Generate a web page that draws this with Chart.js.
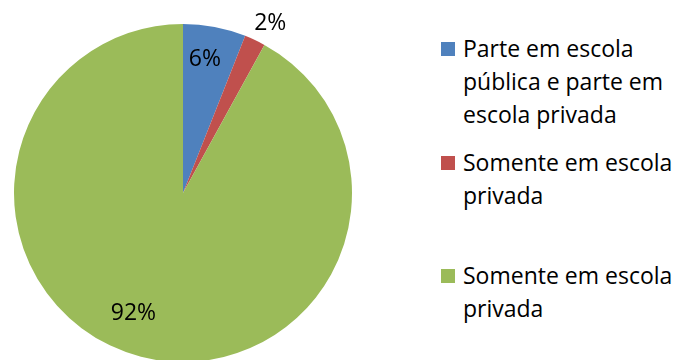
<!DOCTYPE html>
<html lang="pt">
<head>
<meta charset="utf-8">
<title>Escola</title>
<script src="https://cdn.jsdelivr.net/npm/chart.js@4.4.1/dist/chart.umd.min.js"></script>
<style>
  html, body { margin: 0; padding: 0; background: #fff; }
  body { width: 677px; height: 360px; overflow: hidden; position: relative; font-family: "Open Sans", sans-serif; }
  #pieWrap { position: absolute; left: 0; top: 0; width: 366px; height: 380px; }
  #legend { position: absolute; left: 441px; top: 0; width: 236px; height: 360px; }
  .lg-item { position: absolute; left: 0; display: flex; align-items: flex-start; }
  .lg-box { width: 14px; height: 14px; margin-top: 10px; margin-right: 8px; flex: none; }
  .lg-text { font-size: 23px; line-height: 33px; color: #000; white-space: nowrap; }
</style>
</head>
<body>
<div id="pieWrap"><canvas id="pie"></canvas></div>
<div id="legend"></div>
<script>
// --- data ---
const categories = [
    ['Parte em escola', 'pública e parte em', 'escola privada'],
    ['Somente em escola', 'privada'],
    ['Somente em escola', 'privada']
];
const shares = [6, 2, 92];
const sliceColors = ['#4F81BD', '#C0504D', '#9BBB59'];

// label placement: radius factor and angle nudge (deg) per slice
const labelRadius = [0.80, 1.13, 0.77];
const labelNudge = [-1.5, 2, 8];
// legend rows: top of first text line
const legendTops = [32, 146, 259];

const sliceLabels = {
    id: 'sliceLabels',
    afterDatasetsDraw(chart) {
        const ctx = chart.ctx;
        const meta = chart.getDatasetMeta(0);
        ctx.save();
        ctx.font = '23px "Open Sans", sans-serif';
        ctx.fillStyle = '#000';
        ctx.textAlign = 'center';
        ctx.textBaseline = 'middle';
        meta.data.forEach(function (arc, i) {
            const p = arc.getProps(['x', 'y', 'startAngle', 'endAngle', 'outerRadius'], true);
            const mid = (p.startAngle + p.endAngle) / 2 + labelNudge[i] * Math.PI / 180;
            const r = p.outerRadius * labelRadius[i];
            ctx.fillText(shares[i] + '%', p.x + Math.cos(mid) * r, p.y + Math.sin(mid) * r);
        });
        ctx.restore();
    }
};

new Chart(document.getElementById('pie').getContext('2d'), {
    type: 'pie',
    data: {
        labels: categories,
        datasets: [{
            data: shares,
            backgroundColor: sliceColors,
            borderWidth: 0
        }]
    },
    options: {
        responsive: true,
        maintainAspectRatio: false,
        animation: false,
        layout: { padding: { left: 14, right: 14, top: 24, bottom: 18 } },
        plugins: { legend: { display: false }, tooltip: { enabled: false } }
    },
    plugins: [sliceLabels]
});

// --- legend ---
const legendEl = document.getElementById('legend');
categories.forEach(function (lines, i) {
    const item = document.createElement('div');
    item.className = 'lg-item';
    item.style.top = legendTops[i] + 'px';
    const box = document.createElement('span');
    box.className = 'lg-box';
    box.style.background = sliceColors[i];
    const text = document.createElement('div');
    text.className = 'lg-text';
    text.innerHTML = lines.join('<br>');
    item.appendChild(box);
    item.appendChild(text);
    legendEl.appendChild(item);
});
</script>
</body>
</html>
